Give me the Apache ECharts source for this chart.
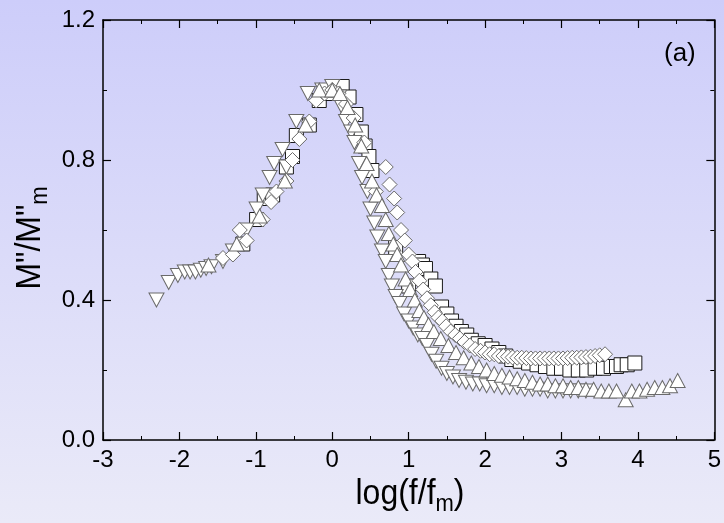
<!DOCTYPE html>
<html>
<head>
<meta charset="utf-8">
<script src="https://cdn.jsdelivr.net/npm/echarts@6/dist/echarts.min.js"></script>
<style>
html,body{margin:0;padding:0;}
#chart{width:724px;height:523px;}
</style>
</head>
<body>
<div id="chart"></div>
<script>
// ---- data (x = log(f/fm), y = M''/M''m) ----
var squares = [[-1.17,0.56],[-0.99,0.63],[-0.89,0.69],[-0.78,0.70],[-0.60,0.78],[-0.52,0.81],[-0.47,0.87],[-0.30,0.90],[-0.17,0.97],[-0.05,0.99],[0.03,1.00],[0.13,1.01],[0.22,0.98],[0.31,0.93],[0.38,0.88],[0.43,0.84],[0.48,0.81],[0.52,0.77],[0.83,0.55],[1.00,0.44],[1.13,0.51],[1.18,0.50],[1.22,0.49],[1.29,0.46],[1.35,0.44],[1.43,0.38],[1.50,0.36],[1.56,0.34],[1.62,0.325],[1.69,0.31],[1.76,0.30],[1.82,0.285],[1.91,0.275],[2.00,0.27],[2.09,0.26],[2.18,0.25],[2.27,0.24],[2.35,0.23],[2.46,0.225],[2.57,0.22],[2.68,0.215],[2.79,0.21],[2.90,0.205],[3.00,0.205],[3.11,0.20],[3.22,0.20],[3.33,0.20],[3.44,0.205],[3.55,0.205],[3.65,0.21],[3.72,0.21],[3.78,0.215],[3.86,0.215],[3.96,0.22]];
var diamonds = [[-1.43,0.52],[-1.30,0.53],[-1.21,0.60],[-1.12,0.57],[-0.91,0.63],[-0.80,0.68],[-0.73,0.71],[-0.60,0.74],[-0.52,0.80],[-0.43,0.86],[-0.30,0.91],[-0.21,0.97],[-0.10,0.99],[0.00,1.00],[0.08,0.99],[0.18,0.96],[0.28,0.92],[0.42,0.85],[0.57,0.71],[0.70,0.78],[0.75,0.73],[0.81,0.69],[0.85,0.65],[0.90,0.60],[0.95,0.57],[1.00,0.53],[1.05,0.51],[1.09,0.48],[1.14,0.455],[1.19,0.43],[1.24,0.405],[1.29,0.385],[1.34,0.365],[1.39,0.35],[1.44,0.34],[1.49,0.325],[1.55,0.31],[1.61,0.30],[1.67,0.29],[1.73,0.28],[1.80,0.27],[1.87,0.26],[1.94,0.255],[2.00,0.25],[2.06,0.245],[2.12,0.245],[2.18,0.24],[2.24,0.24],[2.30,0.238],[2.36,0.236],[2.42,0.235],[2.48,0.235],[2.54,0.234],[2.60,0.233],[2.66,0.233],[2.72,0.233],[2.78,0.233],[2.84,0.233],[2.90,0.233],[2.96,0.233],[3.02,0.233],[3.08,0.234],[3.14,0.235],[3.20,0.235],[3.26,0.236],[3.32,0.237],[3.38,0.238],[3.44,0.24],[3.50,0.242],[3.57,0.245]];
var upTriangles = [[-1.62,0.50],[-1.25,0.56],[-0.95,0.64],[-0.62,0.74],[-0.35,0.90],[-0.17,1.00],[0.00,1.00],[0.10,0.99],[0.20,0.95],[0.30,0.90],[0.38,0.84],[0.45,0.79],[0.52,0.74],[0.58,0.70],[0.65,0.67],[0.70,0.63],[0.74,0.59],[0.80,0.56],[0.85,0.53],[0.90,0.50],[0.96,0.46],[1.02,0.43],[1.08,0.40],[1.14,0.37],[1.20,0.35],[1.26,0.33],[1.33,0.31],[1.42,0.29],[1.52,0.27],[1.62,0.25],[1.72,0.235],[1.82,0.22],[1.92,0.21],[2.02,0.20],[2.12,0.19],[2.22,0.185],[2.32,0.18],[2.42,0.175],[2.52,0.17],[2.62,0.165],[2.72,0.16],[2.82,0.16],[2.92,0.155],[3.02,0.155],[3.12,0.15],[3.22,0.15],[3.32,0.145],[3.42,0.145],[3.52,0.14],[3.62,0.14],[3.72,0.14],[3.84,0.115],[3.92,0.14],[4.02,0.14],[4.12,0.145],[4.22,0.15],[4.32,0.15],[4.42,0.155],[4.52,0.17]];
var downTriangles = [[-2.30,0.40],[-2.14,0.45],[-2.02,0.47],[-1.93,0.48],[-1.86,0.48],[-1.79,0.48],[-1.72,0.485],[-1.65,0.49],[-1.58,0.495],[-1.43,0.51],[-1.30,0.54],[-1.12,0.60],[-0.99,0.66],[-0.91,0.70],[-0.82,0.75],[-0.76,0.79],[-0.65,0.83],[-0.60,0.78],[-0.47,0.91],[-0.32,0.99],[-0.13,1.00],[0.00,1.01],[0.09,0.98],[0.13,0.95],[0.18,0.91],[0.25,0.88],[0.29,0.85],[0.35,0.79],[0.39,0.75],[0.46,0.71],[0.50,0.66],[0.55,0.62],[0.59,0.58],[0.65,0.54],[0.70,0.51],[0.74,0.47],[0.78,0.44],[0.83,0.41],[0.88,0.39],[0.94,0.36],[1.00,0.34],[1.06,0.32],[1.12,0.30],[1.18,0.29],[1.24,0.27],[1.30,0.245],[1.36,0.225],[1.43,0.205],[1.50,0.19],[1.58,0.18],[1.66,0.17],[1.75,0.165],[1.84,0.16],[1.93,0.16],[2.02,0.155],[2.12,0.155],[2.22,0.15],[2.32,0.15],[2.42,0.15],[2.52,0.145],[2.62,0.145],[2.72,0.145],[2.82,0.14],[2.92,0.14],[3.02,0.14],[3.12,0.14],[3.22,0.14],[3.32,0.14]];
var xTicks = {min: -3, max: 5, interval: 1};
var yTicks = {min: 0, max: 1.2, interval: 0.4};
var xTitle = ['log(f/f', 'm', ')'];
var yTitle = ['M"/M"', 'm'];
var panelLabel = '(a)';

var FONT = '"Liberation Sans", Arial, sans-serif';
var chart = echarts.init(document.getElementById('chart'), null, {renderer: 'canvas'});

function axisCommon(show) {
  return {
    axisLine: {show: true, onZero: false, lineStyle: {color: '#000', width: 1.5}},
    axisTick: {show: true, inside: true, length: 8, lineStyle: {color: '#000', width: 1.2}},
    minorTick: {show: true, splitNumber: 2, length: 4, lineStyle: {color: '#000', width: 1}},
    splitLine: {show: false},
    axisLabel: {show: show}
  };
}

var xBottom = Object.assign(axisCommon(true), {
  type: 'value', position: 'bottom', min: xTicks.min, max: xTicks.max, interval: xTicks.interval
});
xBottom.axisLabel = {show: true, fontFamily: FONT, fontSize: 24, color: '#000', margin: 8,
  showMinLabel: true, showMaxLabel: true};
var xTop = Object.assign(axisCommon(false), {
  type: 'value', position: 'top', min: xTicks.min, max: xTicks.max, interval: xTicks.interval
});
var yLeft = Object.assign(axisCommon(true), {
  type: 'value', position: 'left', min: yTicks.min, max: yTicks.max, interval: yTicks.interval
});
yLeft.axisLabel = {show: true, fontFamily: FONT, fontSize: 24, color: '#000', margin: 8,
  formatter: function (v) { return v.toFixed(1); }};
var yRight = Object.assign(axisCommon(false), {
  type: 'value', position: 'right', min: yTicks.min, max: yTicks.max, interval: yTicks.interval
});

var titleRich = {
  a: {fontFamily: FONT, fontSize: 32, fill: '#000', lineHeight: 40},
  b: {fontFamily: FONT, fontSize: 22, fill: '#000', lineHeight: 20, verticalAlign: 'bottom'}
};

function scatter(name, data, symbol, size, rotate, border) {
  return {
    name: name, type: 'scatter', data: data, symbol: symbol, symbolSize: size, symbolRotate: rotate,
    xAxisIndex: 0, yAxisIndex: 0,
    itemStyle: {color: '#ffffff', borderColor: border, borderWidth: 1, opacity: 1},
    emphasis: {disabled: true}, animation: false
  };
}

chart.setOption({
  animation: false,
  backgroundColor: {
    type: 'linear', x: 0, y: 0, x2: 0, y2: 1,
    colorStops: [{offset: 0, color: '#cdcdfa'}, {offset: 1, color: '#eaeaf8'}]
  },
  grid: {left: 103, right: 7, top: 20, bottom: 83, containLabel: false},
  xAxis: [xBottom, xTop],
  yAxis: [yLeft, yRight],
  graphic: [{
    type: 'text', left: 664, top: 41,
    style: {text: panelLabel, fontFamily: FONT, fontSize: 26, fill: '#000'}
  }, {
    type: 'text', x: 410, y: 494, scaleY: 1.12,
    style: {text: '{a|' + xTitle[0] + '}{b|' + xTitle[1] + '}{a|' + xTitle[2] + '}',
      rich: titleRich, align: 'center', verticalAlign: 'middle'}
  }, {
    type: 'text', x: 30, y: 238, rotation: Math.PI / 2, scaleY: 1.12,
    style: {text: '{a|' + yTitle[0] + '}{b|' + yTitle[1] + '}',
      rich: titleRich, align: 'center', verticalAlign: 'middle'}
  }],
  series: [
    scatter('squares', squares, 'rect', 14, 0, '#1a1a1a'),
    scatter('down', downTriangles, 'triangle', [15, 14], 180, '#6a6a6a'),
    scatter('diamonds', diamonds, 'diamond', 15, 0, '#6a6a6a'),
    scatter('up', upTriangles, 'triangle', [15, 14], 0, '#6a6a6a')
  ]
});
</script>
</body>
</html>
